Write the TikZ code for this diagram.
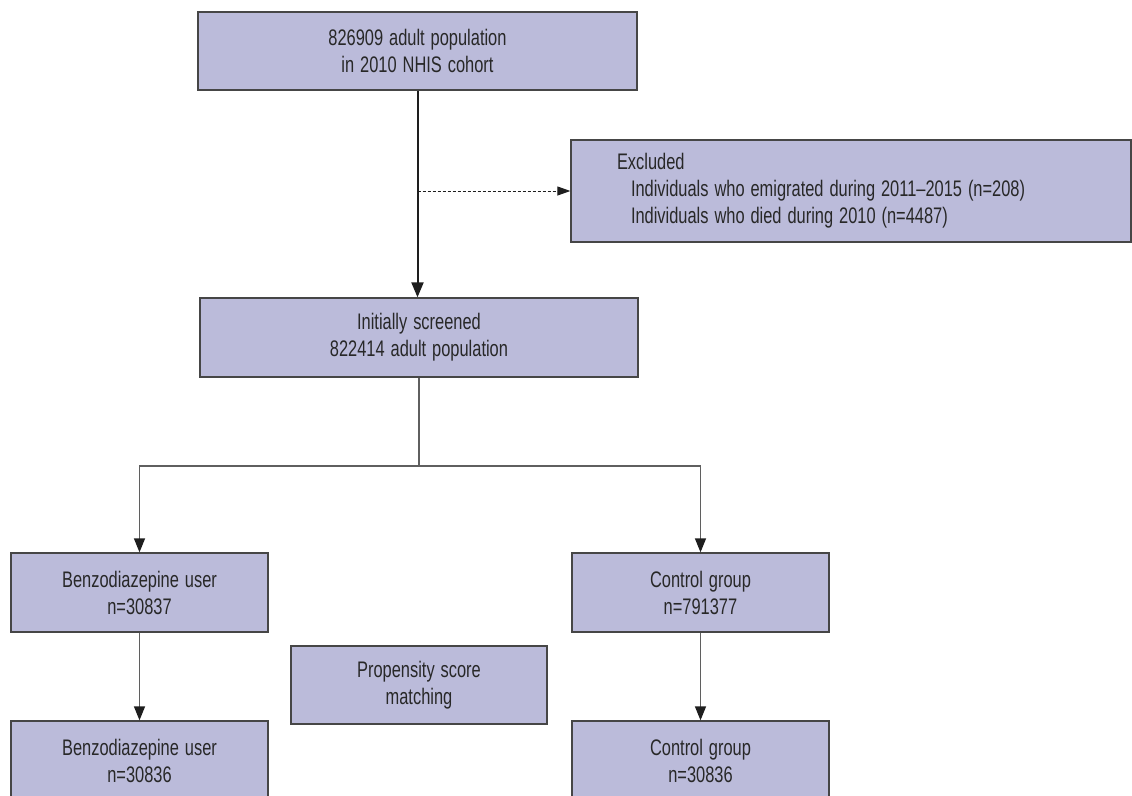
\documentclass[tikz,border=0pt]{standalone}
\usepackage{fontspec}
\setmainfont[FakeStretch=0.73,WordSpace=1.3]{Liberation Sans}
\usetikzlibrary{arrows.meta}
\definecolor{boxfill}{RGB}{187,187,218}
\definecolor{boxline}{RGB}{70,70,70}
\definecolor{txt}{RGB}{40,40,40}
\definecolor{connc}{RGB}{95,95,95}
\definecolor{tipc}{RGB}{30,30,30}
\newcommand{\natspace}{\spaceskip=0pt\relax\xspaceskip=0pt\relax}
\begin{document}
\begin{tikzpicture}[x=1pt,y=-1pt,
  box/.style={draw=boxline, line width=1.3pt, fill=boxfill, text=txt, align=center,
    inner sep=0pt, font=\fontsize{22.5}{27}\selectfont},
  conn/.style={draw=connc, line width=1.3pt, -{Triangle[length=14pt,width=11pt,color=tipc]}},
  plainconn/.style={draw=connc, line width=1.3pt},
  mainconn/.style={draw=tipc, line width=2pt, -{Triangle[length=15pt,width=12pt,color=tipc]}},
  dashconn/.style={draw=tipc, line width=1pt, dash pattern=on 3pt off 2pt, -{Triangle[length=13pt,width=9pt,color=tipc]}}
]
\useasboundingbox (0,0) rectangle (1132,795);

\node[box, minimum width=439pt, minimum height=78pt] (cohort) at (417.5,51)
  {\natspace 826909 adult population\\in 2010 NHIS cohort};
\node[box, minimum width=560pt, minimum height=102pt, text width=468pt, inner xsep=46pt, align=left] (excl) at (851,191)
  {\natspace Excluded\\\hspace*{14pt}Individuals who emigrated during 2011–2015 (n=208)\\\hspace*{14pt}Individuals who died during 2010 (n=4487)};
\node[box, minimum width=438pt, minimum height=79pt] (screened) at (419,337.5)
  {\natspace Initially screened\\822414 adult population};
\node[box, minimum width=257pt, minimum height=79pt] (benzoA) at (139.5,592.5)
  {\natspace Benzodiazepine user\\n=30837};
\node[box, minimum width=257pt, minimum height=79pt] (ctrlA) at (700.5,592.5)
  {\natspace Control group\\n=791377};
\node[box, minimum width=256pt, minimum height=78pt] (psm) at (419,685)
  {\natspace Propensity score\\matching};
\node[box, minimum width=257pt, minimum height=80pt] (benzoB) at (139.5,761)
  {\natspace Benzodiazepine user\\n=30836};
\node[box, minimum width=257pt, minimum height=80pt] (ctrlB) at (700.5,761)
  {\natspace Control group\\n=30836};

\draw[mainconn] (cohort.south) -- (cohort.south |- screened.north);
\coordinate (split) at (cohort.south |- excl.west);
\draw[dashconn] (split) -- (excl.west);
\coordinate (fork) at (419,466);
\draw[plainconn] (screened.south) -- (fork);
\draw[conn] (fork) -| (benzoA.north);
\draw[conn] (fork) -| (ctrlA.north);
\draw[conn] (benzoA.south) -- (benzoB.north);
\draw[conn] (ctrlA.south) -- (ctrlB.north);
\end{tikzpicture}
\end{document}
